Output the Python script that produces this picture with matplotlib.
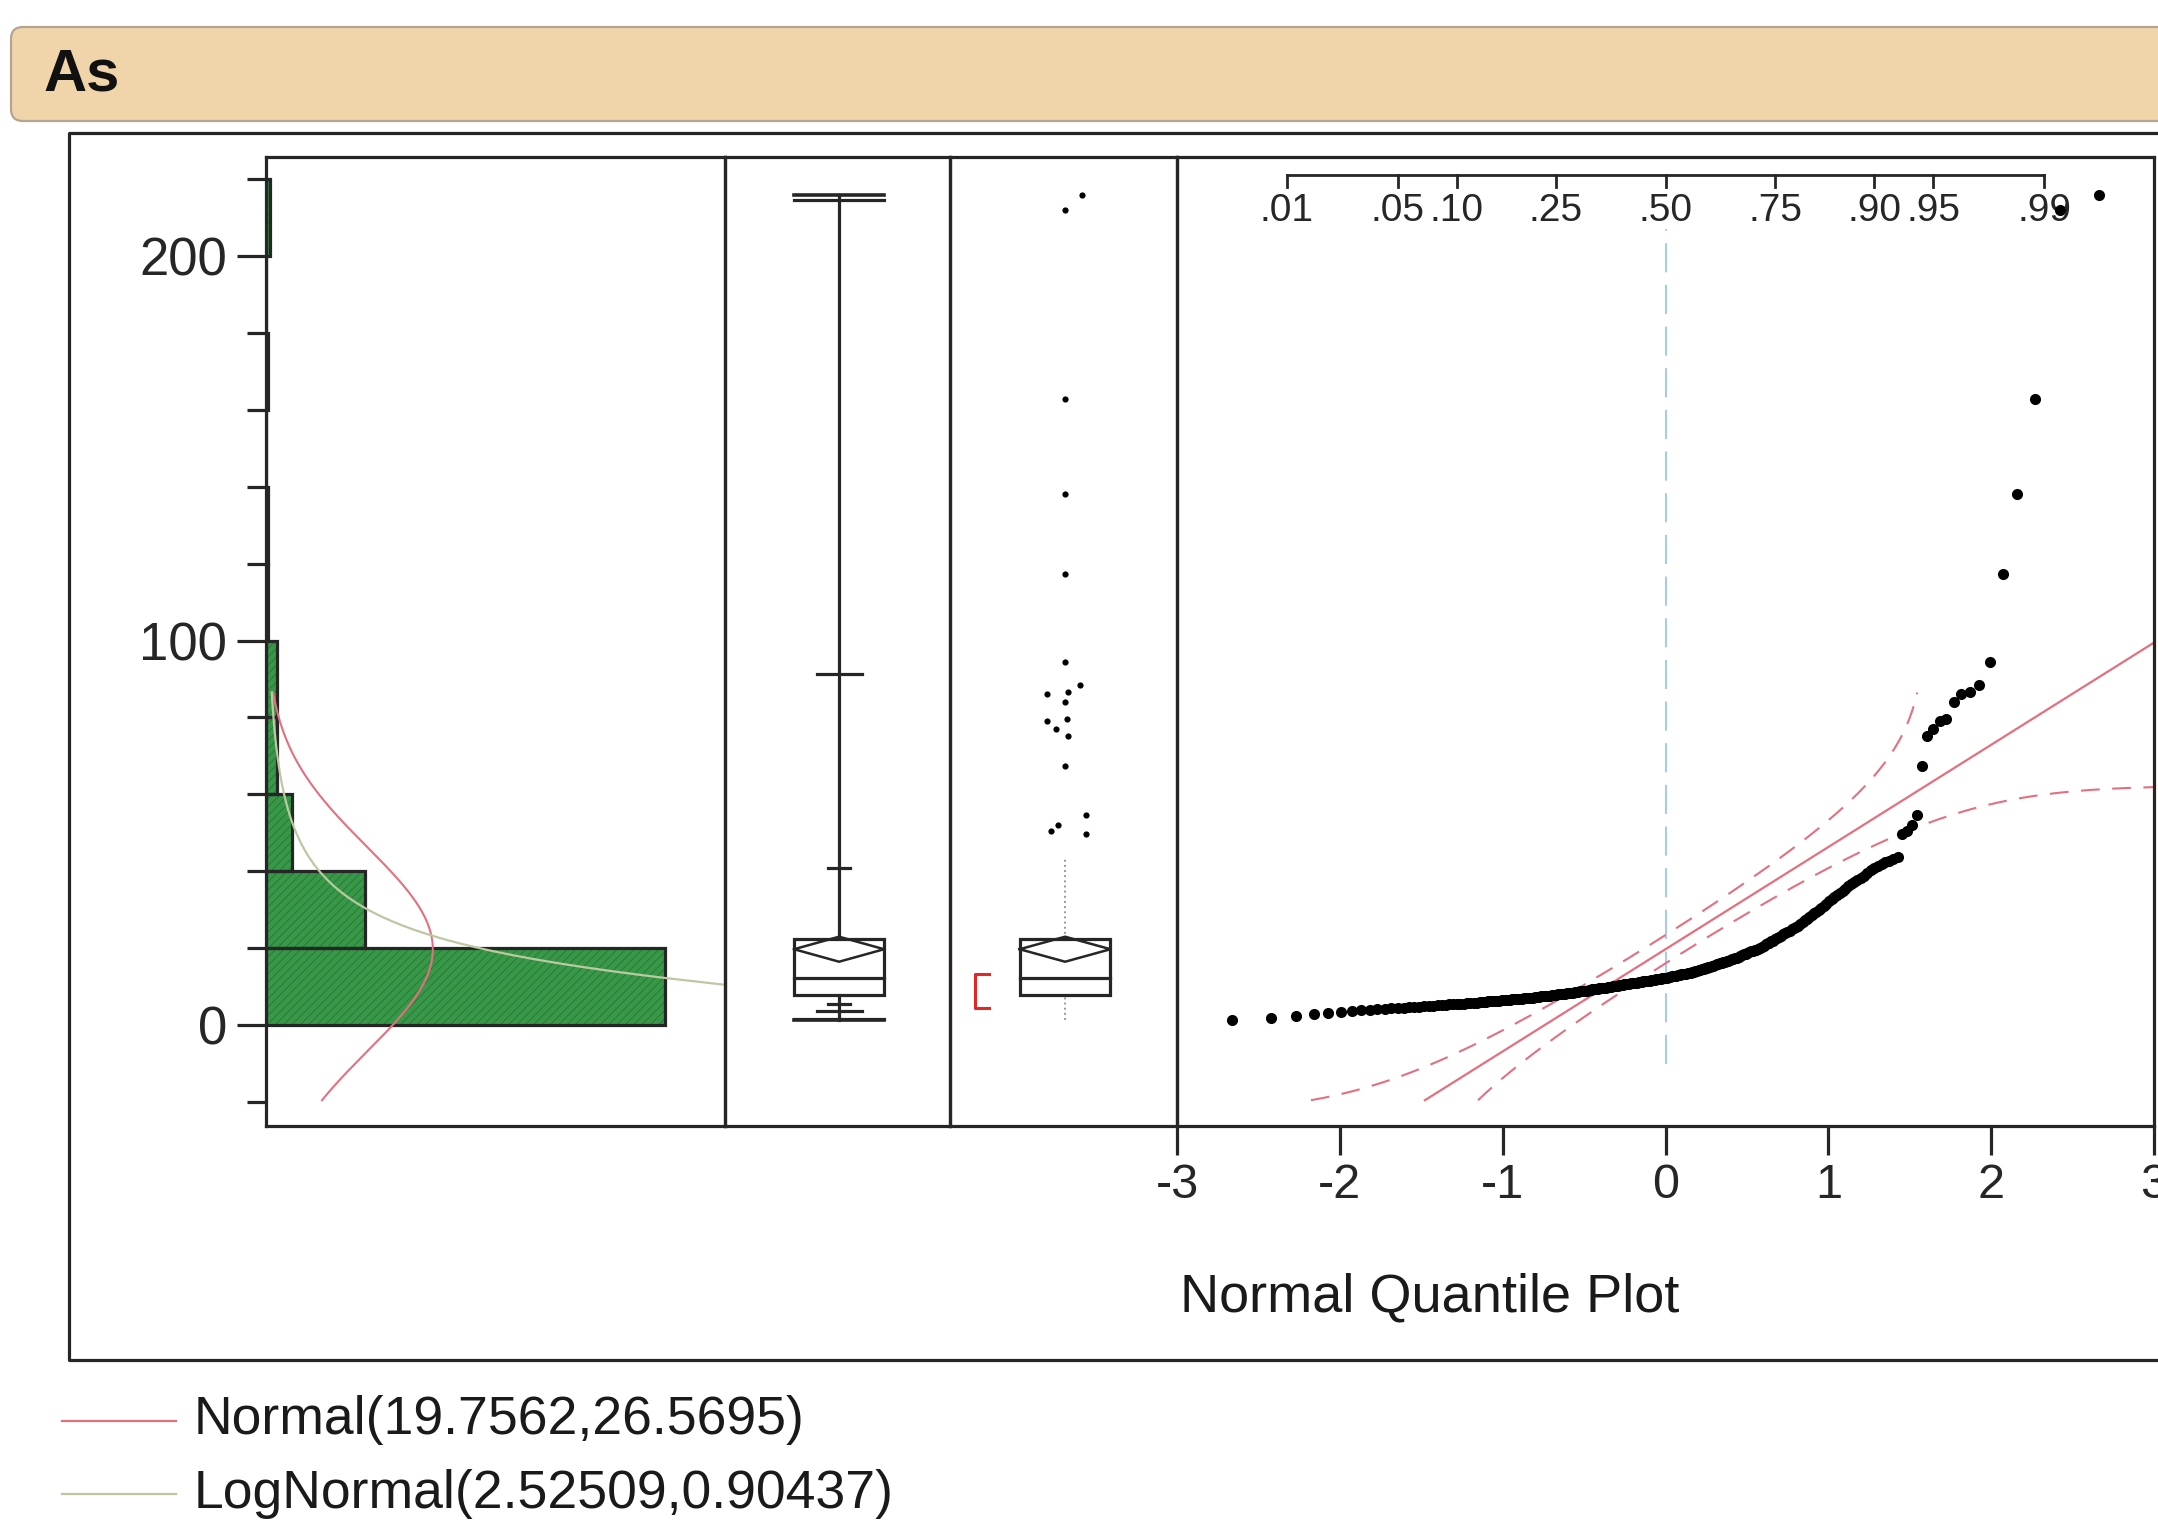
#Distribution report for As: histogram, box plots and normal quantile plot
import numpy as np
import matplotlib
matplotlib.use("Agg")
import matplotlib.pyplot as plt
from matplotlib.patches import FancyBboxPatch, Rectangle
from matplotlib.transforms import blended_transform_factory
from statistics import NormalDist

plt.rcParams['font.family'] = ['Liberation Sans', 'DejaVu Sans']
plt.rcParams['axes.unicode_minus'] = False
plt.rcParams['hatch.linewidth'] = 0.7

# As measurements, sorted ascending
as_values = [
    1.4, 2.0, 2.5, 2.9, 3.2, 3.5, 3.7, 3.9, 4.0, 4.2,
    4.3, 4.4, 4.5, 4.6, 4.7, 4.8, 4.8, 4.9, 5.0, 5.1,
    5.2, 5.2, 5.3, 5.4, 5.4, 5.5, 5.6, 5.6, 5.7, 5.8,
    5.9, 5.9, 6.0, 6.0, 6.1, 6.2, 6.2, 6.3, 6.3, 6.4, 6.5,
    6.5, 6.6, 6.6, 6.7, 6.8, 6.8, 6.9, 6.9, 7.0,
    7.1, 7.1, 7.2, 7.2, 7.3, 7.3, 7.4, 7.5, 7.5, 7.6, 7.6, 7.7, 7.8, 7.8, 7.9,
    8.0, 8.0, 8.1, 8.2, 8.2, 8.3, 8.4, 8.4, 8.5, 8.6, 8.6, 8.7, 8.8, 8.8, 8.9,
    9.0, 9.0, 9.1, 9.2, 9.3, 9.3, 9.4, 9.5, 9.6, 9.6,
    9.7, 9.8, 9.8, 9.9, 10.0, 10.0, 10.1, 10.2, 10.2, 10.3,
    10.4, 10.5, 10.5, 10.6, 10.7, 10.7, 10.8, 10.9, 10.9, 11.0, 11.0, 11.1, 11.2, 11.2, 11.3,
    11.4, 11.4, 11.5, 11.6, 11.6, 11.7, 11.8, 11.8, 11.9, 12.0, 12.0, 12.1, 12.2, 12.2, 12.3,
    12.4, 12.5, 12.6, 12.7, 12.8, 12.8, 12.9, 13.0, 13.1, 13.2, 13.2, 13.3, 13.4, 13.5, 13.6,
    13.7, 13.8, 13.9, 14.1, 14.2, 14.3, 14.4, 14.6, 14.7, 14.8, 14.9, 15.1, 15.2, 15.3, 15.5,
    15.6, 15.8, 15.9, 16.1, 16.2, 16.4, 16.5, 16.7, 16.8, 17.0, 17.2, 17.3, 17.5, 17.6, 17.8,
    18.0, 18.2, 18.4, 18.6, 18.8, 19.0, 19.2, 19.3, 19.5, 19.6, 19.8,
    20.1, 20.4, 20.7, 21.0, 21.3, 21.5, 21.8, 22.0, 22.3,
    22.6, 22.9, 23.3, 23.6, 23.9, 24.2, 24.6, 24.9, 25.2, 25.5,
    25.9, 26.4, 26.8, 27.3, 27.7, 28.2, 28.6, 29.1, 29.5, 30.0,
    30.5, 31.1, 31.6, 32.2, 32.7, 33.3, 33.8, 34.4, 34.9, 35.5,
    36.1, 36.6, 37.2, 37.8, 38.3, 38.9, 39.5,
    40.3, 40.8, 41.3, 41.8, 42.3, 42.8, 43.3, 43.8, 49.8, 50.5, 52.0, 54.6,
    67.3, 75.3, 77.0, 79.0, 79.6,
    84.0, 86.0, 86.5, 88.5, 94.3,
    117.4, 138.0, 162.8, 212.0, 215.7,
]

# fitted distributions (mean, sd) and (mu, sigma)
normal_fit = (19.7562, 26.5695)
lognormal_fit = (2.52509, 0.90437)

hist_edges = [0, 20, 40, 60, 80, 100, 120, 140, 160, 180, 200, 220]
y_major = [0, 100, 200]
y_minor = [-20, 20, 40, 60, 80, 120, 140, 160, 180, 220]
q_ticks = [-3, -2, -1, 0, 1, 2, 3]
q_labels = ['-3', '-2', '-1', '0', '1', '2', '3']
prob_ticks = [0.01, 0.05, 0.10, 0.25, 0.50, 0.75, 0.90, 0.95, 0.99]
prob_labels = ['.01', '.05', '.10', '.25', '.50', '.75', '.90', '.95', '.99']
# quantile marks on the quantile box plot: (probability, relative tick width)
quantile_marks = [(0.005, 1.0), (0.025, 0.5), (0.10, 0.25),
                  (0.90, 0.25), (0.975, 0.5), (0.995, 1.0)]
# horizontal spread of outlier dots
outlier_jitter = [0.09, -0.06, -0.03, 0.09, 0.0, 0.015, -0.04, -0.08, 0.01,
                  0.0, -0.08, 0.015, 0.066, 0.0, 0.0, 0.0, 0.0, 0.0, 0.075]

W, H = 2158, 1536
Y_LO, Y_HI = -26.2, 225.7
FIT_LO, FIT_HI = -19.5, 86.5      # value range the fitted curves are drawn over
INK = '#262626'
RED = '#e4707f'
LOGC = '#bcc8a2'
GREEN = '#379848'

vals = np.array(as_values)
n = len(vals)
mu, sd = normal_fit
lm, ls = lognormal_fit
std = NormalDist()


def quant(p):
    return np.percentile(vals, p * 100, method='weibull')


q1, med, q3 = quant(0.25), quant(0.5), quant(0.75)
iqr = q3 - q1
hi_whisk = vals[vals <= q3 + 1.5 * iqr].max()
lo_whisk = vals[vals >= q1 - 1.5 * iqr].min()
outliers = vals[vals > q3 + 1.5 * iqr]
ci = 1.969 * sd / np.sqrt(n)

# shortest half
k = int(np.ceil(n / 2))
spans = vals[k - 1:] - vals[:n - k + 1]
j = int(np.argmin(spans))
half_lo, half_hi = vals[j], vals[j + k - 1]

fig = plt.figure(figsize=(W / 100, H / 100), dpi=100)
canvas = fig.add_axes([0, 0, 1, 1], zorder=0)
canvas.set_xlim(0, W)
canvas.set_ylim(H, 0)
canvas.axis('off')


def panel(x0, x1, y0=157, y1=1126):
    ax = fig.add_axes([x0 / W, 1 - y1 / H, (x1 - x0) / W, (y1 - y0) / H], zorder=2)
    ax.patch.set_alpha(0)
    for s in ax.spines.values():
        s.set_linewidth(2.3)
        s.set_color(INK)
    ax.set_ylim(Y_LO, Y_HI)
    ax.set_xticks([])
    ax.set_yticks([])
    return ax


# title bar
canvas.add_patch(FancyBboxPatch((11, 27), W + 40, 94, boxstyle="round,pad=0,rounding_size=12",
                                fc='#f0d4aa', ec='#b3a58f', lw=1.6))
canvas.text(44, 75, 'As', fontsize=43, fontweight='bold', va='center', ha='left', color='#111111')

# report frame
canvas.plot([W + 10, 69, 69, W + 10], [133, 133, 1360, 1360], color=INK, lw=2.3)

# histogram
ax_h = panel(266, 725)
counts, edges = np.histogram(vals, bins=hist_edges)
heights = np.diff(edges)
ax_h.barh(edges[:-1], counts, height=heights, align='edge', color=GREEN,
          edgecolor='#2a7a38', hatch='////', linewidth=0, zorder=2)
ax_h.barh(edges[:-1], counts, height=heights, align='edge', color='none',
          edgecolor=INK, linewidth=2.3, zorder=2.5)
ax_h.set_xlim(0, 214)

yy = np.linspace(FIT_LO, FIT_HI, 500)
norm_pdf = np.array([NormalDist(mu, sd).pdf(v) for v in yy])
ax_h.plot(n * 20 * norm_pdf, yy, color=RED, lw=1.5, zorder=3)
yl = np.linspace(9.0, FIT_HI, 500)
ln_pdf = np.exp(-(np.log(yl) - lm) ** 2 / (2 * ls ** 2)) / (yl * ls * np.sqrt(2 * np.pi))
ax_h.plot(n * 20 * ln_pdf, yl, color=LOGC, lw=1.6, zorder=3)

ax_h.set_yticks(y_major)
ax_h.set_yticklabels([str(v) for v in y_major])
ax_h.set_yticks(y_minor, minor=True)
ax_h.tick_params(axis='y', which='major', direction='out', length=21, width=2.3,
                 labelsize=38, pad=7, colors=INK)
ax_h.tick_params(axis='y', which='minor', direction='out', length=13.5, width=2.3, colors=INK)

cx, bw = 0.507, 0.4


def draw_box(ax):
    ax.add_patch(Rectangle((cx - bw / 2, q1), bw, q3 - q1, fc='white', ec=INK, lw=2.3, zorder=3))
    ax.plot([cx - bw / 2, cx + bw / 2], [med, med], color=INK, lw=2.3, zorder=4)
    ax.plot([cx - bw / 2, cx, cx + bw / 2, cx, cx - bw / 2],
            [mu, mu + ci, mu, mu - ci, mu], color=INK, lw=1.8, zorder=4)


# quantile box plot
ax_b = panel(725, 950)
ax_b.set_xlim(0, 1)
ax_b.plot([cx, cx], [q3, vals.max()], color=INK, lw=2.3, zorder=2)
ax_b.plot([cx, cx], [vals.min(), q1], color=INK, lw=2.3, zorder=2)
for edge_val in (vals.min(), vals.max()):
    ax_b.plot([cx - bw / 2, cx + bw / 2], [edge_val, edge_val], color=INK, lw=2.6, zorder=2)
for p, w in quantile_marks:
    qv = quant(p)
    ax_b.plot([cx - bw * w / 2, cx + bw * w / 2], [qv, qv], color=INK, lw=2.3, zorder=2)
draw_box(ax_b)

# outlier box plot
ax_o = panel(950, 1177)
ax_o.set_xlim(0, 1)
ax_o.plot([cx, cx], [q3, hi_whisk], color='#9a9a9a', lw=1.4, ls=':', zorder=2)
ax_o.plot([cx, cx], [lo_whisk, q1], color='#9a9a9a', lw=1.4, ls=':', zorder=2)
draw_box(ax_o)
ax_o.scatter(cx + np.array(outlier_jitter[:len(outliers)]), outliers, s=20,
             color='black', lw=0, zorder=4)
ax_o.plot([0.17, 0.11, 0.11, 0.17], [half_hi, half_hi, half_lo, half_lo],
          color='#e02828', lw=2.2, zorder=4)

# normal quantile plot
ax_q = panel(1177, 2154)
ax_q.set_xlim(-3, 3)
ax_q.set_xticks(q_ticks)
ax_q.set_xticklabels(q_labels)
ax_q.tick_params(axis='x', direction='out', length=21, width=2.3, labelsize=35, pad=6, colors=INK)

zs = np.array([std.inv_cdf(i / (n + 1)) for i in range(1, n + 1)])

ax_q.plot([0, 0], [-10, 207], color='#a9cbe6', lw=1.5, ls=(0, (14, 6)), zorder=1)

# fitted line and Lilliefors confidence bands
z_line = np.array([(FIT_LO - mu) / sd, 3.0])
ax_q.plot(z_line, mu + sd * z_line, color=RED, lw=1.6, zorder=2)
D = 0.886 / np.sqrt(n)
band_y = np.linspace(FIT_LO, FIT_HI, 500)
band_p = np.array([std.cdf((v - mu) / sd) for v in band_y])
up = band_p - D > 0
ax_q.plot([std.inv_cdf(p) for p in band_p[up] - D], band_y[up], color=RED, lw=1.5,
          ls=(0, (9, 6)), zorder=2)
lo = band_p + D < 0.999999
ax_q.plot([std.inv_cdf(p) for p in band_p[lo] + D], band_y[lo], color=RED, lw=1.5,
          ls=(0, (9, 6)), zorder=2)

ax_q.scatter(zs, vals, s=64, color='black', lw=0, zorder=4)

# probability scale along the top
trans = blended_transform_factory(ax_q.transData, ax_q.transAxes)
pz = [std.inv_cdf(p) for p in prob_ticks]
ax_q.plot([pz[0], pz[-1]], [0.981, 0.981], color=INK, lw=2.0, transform=trans)
for z, lab in zip(pz, prob_labels):
    ax_q.plot([z, z], [0.981, 0.969], color=INK, lw=2.0, transform=trans)
    ax_q.text(z, 0.944, lab, transform=trans, ha='center', va='center', fontsize=28, color=INK)

canvas.text(1180, 1298, 'Normal Quantile Plot', fontsize=39, ha='left', va='center', color='#1a1a1a')

# legend
canvas.plot([62, 176], [1421, 1421], color=RED, lw=1.6)
canvas.text(194, 1420, f'Normal({mu},{sd})', fontsize=38.5, ha='left', va='center', color='#1a1a1a')
canvas.plot([62, 176], [1494, 1494], color=LOGC, lw=1.6)
canvas.text(194, 1494, f'LogNormal({lm},{ls})', fontsize=38.5, ha='left', va='center', color='#1a1a1a')

fig.savefig('out.png', dpi=100)
